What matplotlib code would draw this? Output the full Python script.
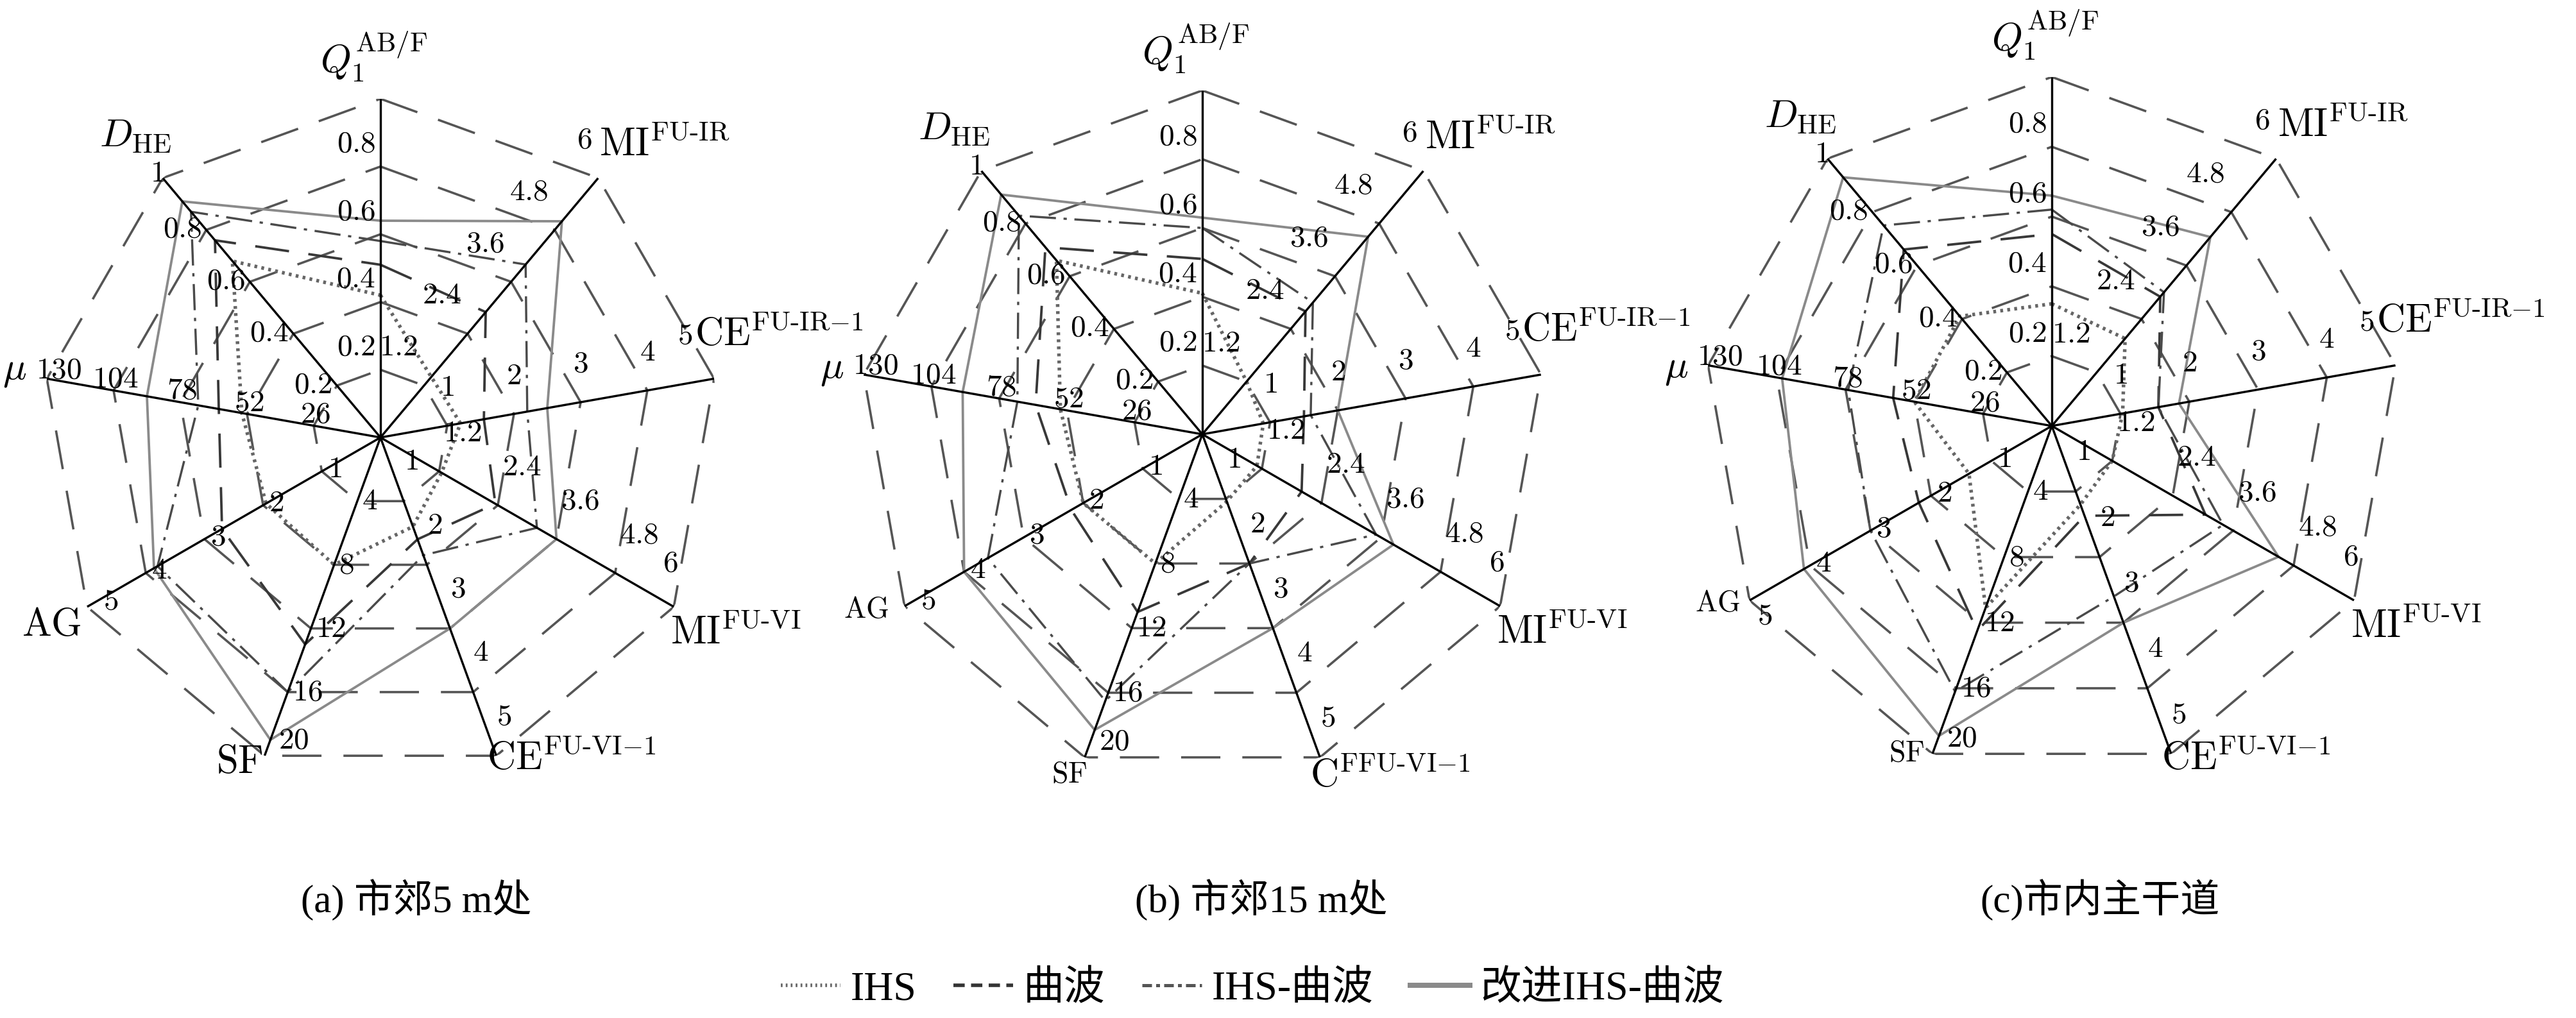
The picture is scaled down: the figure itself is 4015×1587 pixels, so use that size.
import numpy as np
import matplotlib
matplotlib.use('Agg')
import matplotlib.pyplot as plt
from matplotlib.lines import Line2D

plt.rcParams['mathtext.fontset'] = 'cm'
plt.rcParams['font.family'] = ['Liberation Serif', 'Noto Sans CJK SC']

W, H = 4016, 1587

# ---------------- data ----------------
axis_keys = ['Q1', 'MI_IR', 'CE_IR', 'MI_VI', 'CE_VI', 'SF', 'AG', 'mu', 'DHE']
axis_max = [1, 6, 5, 6, 5, 20, 5, 130, 1]
tick_labels = [
    ['0.2', '0.4', '0.6', '0.8', ''],
    ['1.2', '2.4', '3.6', '4.8', '6'],
    ['1', '2', '3', '4', '5'],
    ['1.2', '2.4', '3.6', '4.8', '6'],
    ['1', '2', '3', '4', '5'],
    ['4', '8', '12', '16', '20'],
    ['1', '2', '3', '4', '5'],
    ['26', '52', '78', '104', '130'],
    ['0.2', '0.4', '0.6', '0.8', '1'],
]
axis_titles = [r'$Q_1^{\mathrm{AB/F}}$', r'$\mathrm{MI}^{\mathrm{FU\text{-}IR}}$',
               r'$\mathrm{CE}^{\mathrm{FU\text{-}IR{-}1}}$', r'$\mathrm{MI}^{\mathrm{FU\text{-}VI}}$',
               r'$\mathrm{CE}^{\mathrm{FU\text{-}VI{-}1}}$', r'$\mathrm{SF}$', r'$\mathrm{AG}$',
               r'$\mu$', r'$D_{\mathrm{HE}}$']
title_b_cevi = r'$\mathrm{C}^{\mathrm{FFU\text{-}VI{-}1}}$'

series_names = ['IHS', '曲波', 'IHS-曲波', '改进IHS-曲波']

a_ihs      = [0.42, 1.4, 1.2, 1.25, 1.4, 8.0, 1.95, 54, 0.68]
a_curv     = [0.51, 2.9, 1.55, 2.35, 1.6, 13.0, 2.7, 63, 0.76]
a_ihscurv  = [0.58, 4.0, 2.2, 3.2, 1.85, 16.0, 3.8, 71, 0.87]
a_improved = [0.64, 5.0, 2.5, 3.6, 3.0, 19.0, 3.86, 91, 0.91]

b_ihs      = [0.41, 1.2, 0.9, 1.1, 1.04, 8.0, 2.0, 54.5, 0.66]
b_curv     = [0.51, 2.8, 1.5, 2.0, 2.0, 11.0, 2.2, 64, 0.71]
b_ihscurv  = [0.60, 3.0, 1.6, 3.5, 2.0, 16.5, 3.6, 71, 0.83]
b_improved = [0.63, 4.5, 2.0, 3.85, 3.0, 18.3, 4.0, 92, 0.91]

c_ihs      = [0.35, 1.96, 1.03, 1.2, 1.2, 11.1, 1.37, 52, 0.41]
c_curv     = [0.55, 2.9, 1.55, 3.05, 1.37, 12.5, 2.2, 60, 0.66]
c_ihscurv  = [0.62, 3.0, 1.55, 3.4, 2.6, 16.2, 3.0, 77, 0.75]
c_improved = [0.66, 4.24, 1.85, 4.5, 3.0, 18.9, 4.1, 102, 0.93]

captions = ['(a) 市郊5 m处', '(b) 市郊15 m处', '(c)市内主干道']

# ---------------- layout / style ----------------
charts = [
    dict(center=(593, 682), R=528, data=[a_ihs, a_curv, a_ihscurv, a_improved], cap_x=649,
         small=set(), cevi=None, cevi_dy=6, mu_dy=-12),
    dict(center=(1874, 677), R=536, data=[b_ihs, b_curv, b_ihscurv, b_improved], cap_x=1966,
         small={'SF', 'AG'}, cevi=title_b_cevi, cevi_dy=30, mu_dy=-8),
    dict(center=(3198, 664), R=544, data=[c_ihs, c_curv, c_ihscurv, c_improved], cap_x=3273,
         small={'SF', 'AG'}, cevi=None, cevi_dy=9, mu_dy=6),
]

PX = 0.72  # points per pixel at dpi 100
styles = [
    dict(color='#666666', linewidth=5.5 * PX, linestyle=(0, (0.8, 1.2)), dash_capstyle='butt'),
    dict(color='#383838', linewidth=3.8 * PX, linestyle=(0, (14, 8))),
    dict(color='#4a4a4a', linewidth=3.4 * PX, linestyle=(0, (12, 3.5, 1.5, 3.5))),
    dict(color='#8a8a8a', linewidth=3.8 * PX, linestyle='-'),
]
legend_styles = [
    dict(color='#666666', linewidth=5.5 * PX, linestyle=(0, (0.5, 0.9)), dash_capstyle='butt'),
    dict(color='#333333', linewidth=5.5 * PX, linestyle=(0, (3.2, 1.8))),
    dict(color='#555555', linewidth=5 * PX, linestyle=(0, (3, 1.3, 1.2, 1.3))),
    dict(color='#8a8a8a', linewidth=8 * PX, linestyle='-'),
]
grid_style = dict(color='#555555', linewidth=3.6 * PX, linestyle=(0, (17, 9.5)))

# tick label placement: (ha, dx, dy) in pixels, dy positive = down
tick_fmt = {
    'Q1': ('right', -8, -34), 'MI_IR': ('right', -10, -58), 'CE_IR': ('center', 0, -58),
    'MI_VI': ('left', 7, -58), 'CE_VI': ('center', 12, -60), 'SF': ('left', 7, 2),
    'AG': ('left', 9, -2), 'mu': ('center', 3, -16), 'DHE': ('right', -7, 0),
}
tick_special = {('CE_IR', 4): ('center', -45, -66), ('MI_VI', 4): ('center', -5, -66),
                ('MI_IR', 4): ('center', -22, -58),
                ('SF', 4): ('left', 22, -23), ('AG', 4): ('left', 25, -7),
                ('mu', 4): ('center', 18, -12), ('DHE', 4): ('center', -9, -6)}
title_fmt = {
    'Q1': ('center', -10, -66), 'MI_IR': ('left', 2, -50), 'CE_IR': ('left', -30, -68),
    'MI_VI': ('left', -5, 42), 'CE_VI': ('left', -15, 6), 'SF': ('center', -39, 12),
    'AG': ('center', -55, 30), 'mu': ('center', -50, -12), 'DHE': ('center', -42, -64),
}
small_title_fmt = {1: {'SF': ('center', -24, 28), 'AG': ('center', -60, 7)},
                   2: {'SF': ('center', -40, 0), 'AG': ('center', -50, 6)}}

fig = plt.figure(figsize=(W / 100, H / 100), dpi=100)

n = len(axis_keys)
theta = np.arange(n) * 2 * np.pi / n
theta_c = np.append(theta, theta[0])

for ci, ch in enumerate(charts):
    cx, cy = ch['center']
    R = ch['R']
    ax = fig.add_axes([(cx - R) / W, 1 - (cy + R) / H, 2 * R / W, 2 * R / H], projection='polar')
    ax.set_theta_offset(np.pi / 2)
    ax.set_theta_direction(-1)
    ax.set_ylim(0, 1)
    ax.grid(False)
    ax.set_xticks([])
    ax.set_yticks([])
    ax.spines['polar'].set_visible(False)
    ax.patch.set_visible(False)

    # grid rings
    for lev in [0.2, 0.4, 0.6, 0.8, 1.0]:
        ax.plot(theta_c, [lev] * (n + 1), zorder=1, **grid_style)
    # spokes
    for t in theta:
        ax.plot([t, t], [0, 1], color='black', lw=3.4 * PX, zorder=4, solid_capstyle='butt')

    # series
    for si, vals in enumerate(ch['data']):
        r = np.array(vals, dtype=float) / np.array(axis_max, dtype=float)
        r = np.append(r, r[0])
        ax.plot(theta_c, r, zorder=3, **styles[si])

    # tick labels
    for k, key in enumerate(axis_keys):
        for j, lab in enumerate(tick_labels[k]):
            if not lab:
                continue
            ha, dx, dy = tick_special.get((key, j), tick_fmt[key])
            if ci == 2 and key == 'AG' and j == 4:
                ha, dx, dy = ('center', 24, 26)
            ax.annotate('$' + lab + '$', xy=(theta[k], (j + 1) / 5), xytext=(dx, -dy),
                        textcoords='offset pixels', ha=ha, va='center', fontsize=34,
                        annotation_clip=False, zorder=5)
        # axis titles
        title = axis_titles[k]
        fs = 44
        ha, dx, dy = title_fmt[key]
        if key == 'CE_VI':
            dy = ch['cevi_dy']
            if ch['cevi']:
                title = ch['cevi']
        if key == 'mu':
            dy = ch['mu_dy']
        if key in ch['small']:
            fs = 33
            ha, dx, dy = small_title_fmt[ci][key]
        ax.annotate(title, xy=(theta[k], 1.0), xytext=(dx, -dy), textcoords='offset pixels',
                    ha=ha, va='center', fontsize=fs, annotation_clip=False, zorder=5)

    fig.text(ch['cap_x'] / W, 1 - 1403 / H, captions[ci], ha='center', va='center', fontsize=44)

handles = [Line2D([0], [0], **s) for s in legend_styles]
fig.legend(handles, series_names, loc='center', bbox_to_anchor=(1952 / W, 1 - 1543 / H),
           ncol=4, frameon=False, fontsize=46, handlelength=1.45, handletextpad=0.25,
           columnspacing=0.9)

fig.savefig('out.png', dpi=100)
